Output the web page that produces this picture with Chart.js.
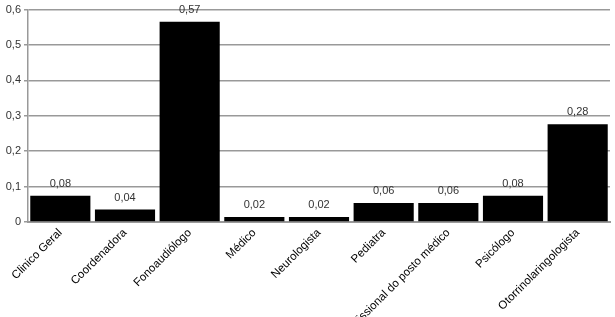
<!DOCTYPE html>
<html lang="pt">
<head>
    <meta charset="UTF-8">
    <title>Profissionais</title>
    <script src="https://cdn.jsdelivr.net/npm/chart.js"></script>
    <style>
        body { margin: 0; background: #fff; }
        #wrap { width: 615px; height: 317px; position: relative; }
    </style>
</head>
<body>
    <div id="wrap"><canvas id="chart"></canvas></div>
    <script>
        // dados
        const categorias = ['Clinico Geral', 'Coordenadora', 'Fonoaudiólogo', 'Médico', 'Neurologista',
            'Pediatra', 'Profissional do posto médico', 'Psicólogo', 'Otorrinolaringologista'];
        const valores = [0.074, 0.035, 0.566, 0.014, 0.014, 0.054, 0.054, 0.074, 0.276];
        const rotulos = ['0,08', '0,04', '0,57', '0,02', '0,02', '0,06', '0,06', '0,08', '0,28'];

        const fonte = "'Liberation Sans', Arial, sans-serif";

        // escreve o valor em cima de cada barra
        const rotuloBarras = {
            id: 'rotuloBarras',
            afterDatasetsDraw(chart) {
                const ctx = chart.ctx;
                const meta = chart.getDatasetMeta(0);
                ctx.save();
                ctx.font = '11px ' + fonte;
                ctx.fillStyle = '#333';
                ctx.textAlign = 'center';
                ctx.textBaseline = 'middle';
                meta.data.forEach((bar, i) => {
                    ctx.fillText(rotulos[i], bar.x, bar.y - 12);
                });
                ctx.restore();
            }
        };

        new Chart(document.getElementById('chart'), {
            type: 'bar',
            data: {
                labels: categorias,
                datasets: [{
                    data: valores,
                    backgroundColor: '#000',
                    borderWidth: 0,
                    barPercentage: 0.93,
                    categoryPercentage: 1
                }]
            },
            plugins: [rotuloBarras],
            options: {
                responsive: true,
                maintainAspectRatio: false,
                animation: false,
                layout: { padding: { top: 7, right: 5, left: 0, bottom: 0 } },
                plugins: {
                    legend: { display: false },
                    tooltip: { enabled: false }
                },
                scales: {
                    x: {
                        grid: { display: false, drawTicks: false },
                        border: { color: '#999', width: 2 },
                        ticks: {
                            color: '#000',
                            font: { family: fonte, size: 11.5 },
                            minRotation: 45,
                            maxRotation: 45,
                            autoSkip: false,
                            padding: 4
                        },
                        afterFit(scale) { scale.height = 95; }
                    },
                    y: {
                        min: 0,
                        max: 0.6,
                        grid: { color: '#999', lineWidth: 1.5, tickLength: 4 },
                        border: { color: '#999', width: 1.5 },
                        ticks: {
                            stepSize: 0.1,
                            color: '#333',
                            font: { family: fonte, size: 11 },
                            padding: 3,
                            callback: v => v === 0 ? '0' : v.toFixed(1).replace('.', ',')
                        },
                        afterFit(scale) { scale.width = 28; }
                    }
                }
            }
        });
    </script>
</body>
</html>
